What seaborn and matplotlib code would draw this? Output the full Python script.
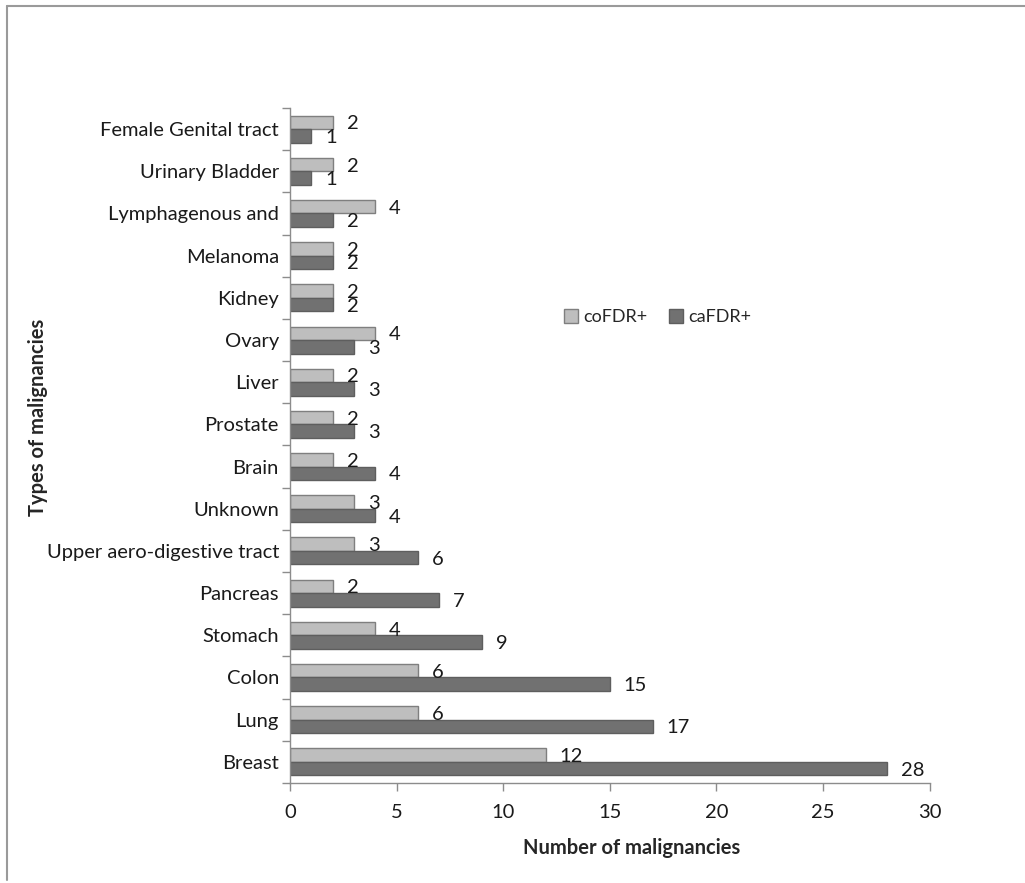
import matplotlib
matplotlib.use("Agg")
import matplotlib.pyplot as plt
from matplotlib.lines import Line2D
import seaborn as sns
import pandas as pd
import numpy as np

# Malignancy types, listed top to bottom
categories = ["Female Genital tract", "Urinary Bladder", "Lymphagenous and", "Melanoma",
              "Kidney", "Ovary", "Liver", "Prostate", "Brain", "Unknown",
              "Upper aero-digestive tract", "Pancreas", "Stomach", "Colon", "Lung", "Breast"]
co_fdr = [2, 2, 4, 2, 2, 4, 2, 2, 2, 3, 3, 2, 4, 6, 6, 12]
ca_fdr = [1, 1, 2, 2, 2, 3, 3, 3, 4, 4, 6, 7, 9, 15, 17, 28]
groups = ["coFDR+", "caFDR+"]
x_ticks = [0, 5, 10, 15, 20, 25, 30]

df = pd.DataFrame({
    "type": categories * 2,
    "group": [groups[0]] * len(categories) + [groups[1]] * len(categories),
    "count": co_fdr + ca_fdr,
})

sns.set_style("white")
plt.rcParams["font.family"] = ["Lato", "DejaVu Sans"]
FS = 14.5

fig = plt.figure(figsize=(10.25, 8.83), dpi=100)
ax = fig.add_axes([0.283, 0.1133, 0.624, 0.7644])

face = {"coFDR+": "#BEBEBE", "caFDR+": "#717171"}
edge = {"coFDR+": "#7F7F7F", "caFDR+": "#5E5E5E"}

sns.barplot(data=df, y="type", x="count", hue="group", order=categories,
            hue_order=groups, palette=face, orient="h", width=0.64,
            saturation=1, ax=ax, legend=False)

for container, g in zip(ax.containers, groups):
    for bar in container:
        bar.set_edgecolor(edge[g])
        bar.set_linewidth(1.0)
    texts = ax.bar_label(container, labels=[str(int(v)) for v in container.datavalues],
                         padding=10, fontsize=FS, color="#1a1a1a")
    for t in texts:
        t.set_va("center_baseline")

ax.set_xlim(0, 30)
ax.set_ylim(15.5, -0.5)
ax.set_xticks(x_ticks)
ax.set_xticklabels([str(t) for t in x_ticks])

# category boundaries carry the tick marks on the vertical axis
ax.set_yticks(np.arange(-0.5, len(categories), 1.0), minor=True)
ax.tick_params(axis="y", which="major", length=0, pad=8, labelsize=FS, labelcolor="#1a1a1a")
ax.tick_params(axis="y", which="minor", left=True, length=6, width=1, color="#8C8C8C", direction="out")
ax.tick_params(axis="x", which="major", bottom=True, length=6, width=1, color="#8C8C8C",
               direction="out", pad=9, labelsize=FS, labelcolor="#1a1a1a")

for side in ["top", "right"]:
    ax.spines[side].set_visible(False)
for side in ["left", "bottom"]:
    ax.spines[side].set_color("#8C8C8C")
    ax.spines[side].set_linewidth(1.0)

ax.set_xlabel("Number of malignancies", fontsize=FS, fontweight="bold")
ax.set_ylabel("Types of malignancies", fontsize=FS, fontweight="bold")
ax.xaxis.set_label_coords(0.534, -0.082)
ax.yaxis.set_label_coords(-0.378, 0.541)

handles = [plt.Rectangle((0, 0), 1, 1, facecolor=face[g], edgecolor=edge[g]) for g in groups]
ax.legend(handles, groups, loc="center", bbox_to_anchor=(0.575, 0.69), ncol=2, frameon=False,
          fontsize=13, handlelength=0.75, handleheight=0.75, handletextpad=0.3, columnspacing=1.2)

# outer frame lines
fig.add_artist(Line2D([0.007, 0.007], [0.003, 0.993], transform=fig.transFigure,
                      color="#9A9A9A", lw=1.5))
fig.add_artist(Line2D([0.007, 1.0], [0.993, 0.993], transform=fig.transFigure,
                      color="#9A9A9A", lw=1.5))

fig.savefig("out.png", dpi=100)
